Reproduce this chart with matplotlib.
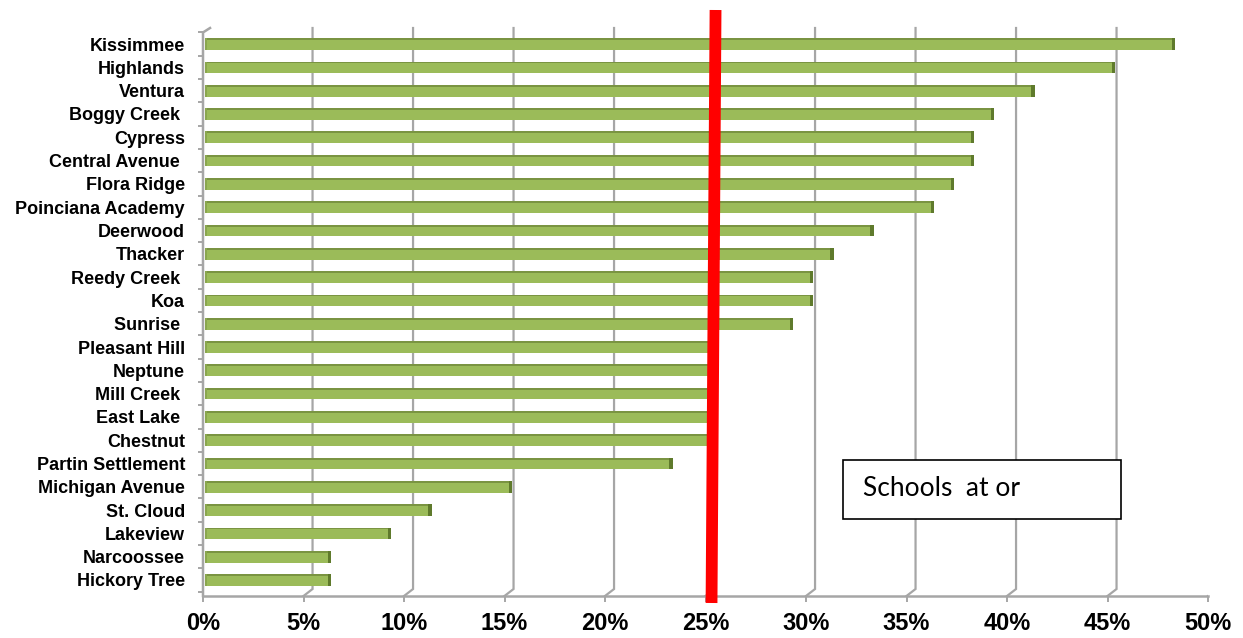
import matplotlib.pyplot as plt
import matplotlib.patches as patches
import numpy as np

# schools from top to bottom, share of students (%)
schools = ['Kissimmee', 'Highlands', 'Ventura', 'Boggy Creek ', 'Cypress', 'Central Avenue ',
           'Flora Ridge', 'Poinciana Academy', 'Deerwood', 'Thacker', 'Reedy Creek ', 'Koa',
           'Sunrise ', 'Pleasant Hill', 'Neptune', 'Mill Creek ', 'East Lake ', 'Chestnut',
           'Partin Settlement', 'Michigan Avenue', 'St. Cloud', 'Lakeview', 'Narcoossee', 'Hickory Tree']
values = [48, 45, 41, 39, 38, 38,
          37, 36, 33, 31, 30, 30,
          29, 25, 25, 25, 25, 25,
          23, 15, 11, 9, 6, 6]
x_ticks = [0, 5, 10, 15, 20, 25, 30, 35, 40, 45, 50]
x_tick_labels = ['0%', '5%', '10%', '15%', '20%', '25%', '30%', '35%', '40%', '45%', '50%']
threshold = 25  # %
box_text = 'Schools  at or'

W, H = 1243, 638
fig = plt.figure(figsize=(W/100, H/100), dpi=100)

# axes placed so that x=0..50 spans the front floor edge
ax_left, ax_right = 203, 1208
ax_bottom, ax_top = 596, 10
ax = fig.add_axes([ax_left/W, 1 - ax_bottom/H, (ax_right - ax_left)/W, (ax_bottom - ax_top)/H])

row_px = 23.3  # pixels per category
y_floor = -(ax_bottom - 580)/row_px
y_top = (580 - ax_top)/row_px
ax.set_xlim(0, 50)
ax.set_ylim(y_floor, y_top)
for s in ax.spines.values():
	s.set_visible(False)

n = len(schools)
ypos = np.arange(n)[::-1]

grid_c = '#a6a6a6'
depth_x = 0.45          # back wall offset in x units
back_floor = y_floor + 0.3
back_top = (580 - 28)/row_px

# back wall gridlines with little floor kink
for v in x_ticks[1:]:
	ax.plot([v, v + depth_x, v + depth_x], [y_floor, back_floor, back_top],
	        color=grid_c, lw=1.6, solid_joinstyle='miter', zorder=1)

# front floor line and left wall
ax.plot([0, 50], [y_floor, y_floor], color=grid_c, lw=1.8, zorder=2, clip_on=False)
ax_top_row = n - 0.5
ax.plot([0, 0, 0.35], [y_floor, ax_top_row, back_top], color=grid_c, lw=1.8, zorder=2, clip_on=False)

# bars
bar_h = 0.5
ax.barh(ypos, np.array(values) + 0.1, left=0.2, height=bar_h, color='#9bbb59', zorder=3)
ax.barh(ypos + bar_h/2 - 0.04, np.array(values) + 0.1, left=0.2, height=0.08, color='#7a9442', zorder=4)
ax.barh(ypos, 0.17, left=np.array(values) + 0.2, height=bar_h, color='#5f7a2c', zorder=4)
ax.barh(ypos, 0.1, left=0.12, height=bar_h, color='#8aa64e', zorder=4)

# ticks
ax.set_yticks(ypos)
ax.set_yticklabels(schools, fontsize=13, fontweight='bold', family='Liberation Sans')
ax.set_yticks(np.arange(-0.5, n, 1.0), minor=True)
ax.tick_params(axis='y', which='major', length=0, pad=13)
ax.tick_params(axis='y', which='minor', length=3.6, width=1.4, color=grid_c)

ax.set_xticks(x_ticks)
ax.set_xticklabels(x_tick_labels, fontsize=17, fontweight='bold', family='Liberation Sans')
ax.tick_params(axis='x', length=4.3, width=1.4, color=grid_c, pad=7)

# red threshold line
ax.plot([threshold + 0.3, threshold + 0.5], [y_floor - 0.3, y_top], color='#ff0000',
        lw=8.5, solid_capstyle='butt', zorder=6, clip_on=False)

# text box
bx0, bx1, by0, by1 = 843, 1121, 460, 519
fig.patches.append(patches.Rectangle((bx0/W, 1 - by1/H), (bx1 - bx0)/W, (by1 - by0)/H,
                                     transform=fig.transFigure, facecolor='white',
                                     edgecolor='black', lw=1.2, zorder=7))
fig.text(863/W, 1 - 489/H, box_text, fontsize=19, family='Lato', va='center', ha='left', zorder=8)

fig.savefig('out.png', dpi=100)
